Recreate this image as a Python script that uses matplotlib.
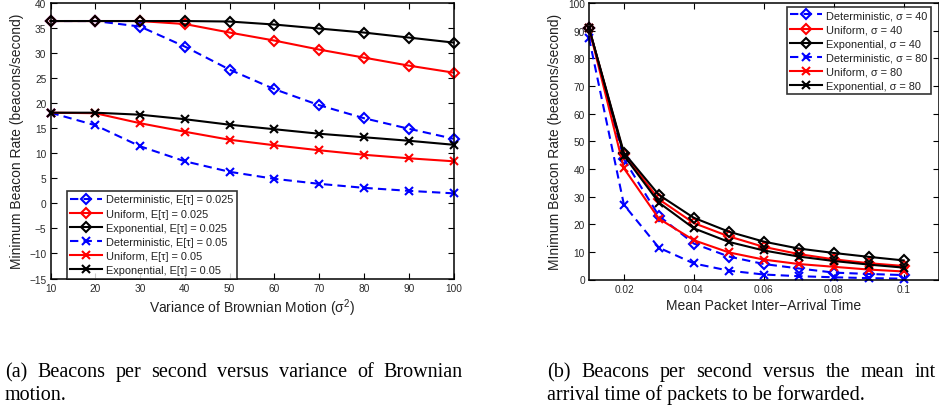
import matplotlib
matplotlib.use('Agg')
import matplotlib.pyplot as plt

plt.rcParams['font.family'] = ['Liberation Sans', 'DejaVu Sans']
plt.rcParams['mathtext.fontset'] = 'custom'
plt.rcParams['mathtext.rm'] = 'Liberation Sans'
plt.rcParams['mathtext.it'] = 'Liberation Sans'

# ---------- data: left panel ----------
var_x = [10, 20, 30, 40, 50, 60, 70, 80, 90, 100]
det_025 = [36.4, 36.4, 35.3, 31.3, 26.7, 22.8, 19.6, 17.0, 14.9, 12.9]
uni_025 = [36.4, 36.4, 36.4, 35.8, 34.1, 32.5, 30.7, 29.1, 27.5, 26.1]
exp_025 = [36.4, 36.4, 36.4, 36.4, 36.3, 35.7, 34.9, 34.1, 33.1, 32.1]
det_05 = [18.1, 15.6, 11.4, 8.4, 6.3, 4.9, 3.9, 3.1, 2.5, 2.0]
uni_05 = [18.1, 18.0, 16.0, 14.3, 12.7, 11.6, 10.6, 9.7, 9.0, 8.4]
exp_05 = [18.1, 18.1, 17.7, 16.8, 15.7, 14.8, 13.9, 13.2, 12.5, 11.7]
left_labels = ['Deterministic, E[τ] = 0.025', 'Uniform, E[τ] = 0.025',
               'Exponential, E[τ] = 0.025', 'Deterministic, E[τ] = 0.05',
               'Uniform, E[τ] = 0.05', 'Exponential, E[τ] = 0.05']
left_xticks = [10, 20, 30, 40, 50, 60, 70, 80, 90, 100]
left_yticks = [-15, -10, -5, 0, 5, 10, 15, 20, 25, 30, 35, 40]

# ---------- data: right panel ----------
arr_x = [0.01, 0.02, 0.03, 0.04, 0.05, 0.06, 0.07, 0.08, 0.09, 0.1]
det_40 = [91.0, 43.5, 23.0, 13.0, 8.3, 5.6, 4.0, 2.5, 2.0, 1.6]
uni_40 = [91.0, 45.3, 29.0, 20.4, 15.6, 11.8, 9.2, 7.3, 5.9, 4.9]
exp_40 = [91.0, 45.8, 30.6, 22.3, 17.3, 13.7, 11.2, 9.6, 8.2, 6.9]
det_80 = [87.4, 27.0, 11.5, 5.8, 3.2, 1.8, 1.2, 0.8, 0.5, 0.3]
uni_80 = [91.0, 40.2, 22.0, 14.2, 9.8, 7.2, 5.6, 4.6, 3.6, 2.9]
exp_80 = [91.0, 44.8, 27.8, 18.5, 13.6, 10.5, 8.3, 6.7, 5.4, 4.3]
right_labels = ['Deterministic, σ = 40', 'Uniform, σ = 40', 'Exponential, σ = 40',
                'Deterministic, σ = 80', 'Uniform, σ = 80', 'Exponential, σ = 80']
right_xticks = [0.02, 0.04, 0.06, 0.08, 0.1]
right_xticklabels = ['0.02', '0.04', '0.06', '0.08', '0.1']
right_yticks = [0, 10, 20, 30, 40, 50, 60, 70, 80, 90, 100]

caption_a = ['(a) Beacons per second versus variance of Brownian', 'motion.']
caption_b = ['(b) Beacons per second versus the mean int',
             'arrival time of packets to be forwarded.']

W, H = 939, 410
fig = plt.figure(figsize=(W / 100, H / 100), dpi=100)

def px_axes(l, t, r, b):
    return fig.add_axes([l / W, 1 - b / H, (r - l) / W, (b - t) / H])

axL = px_axes(50.5, 4, 453.5, 279.5)
axR = px_axes(589, 4, 938.5, 280.5)

styles = [
    dict(color='blue', ls=(0, (4, 2.5)), marker='D', ms=5.5, mfc='none'),
    dict(color='red', ls='-', marker='D', ms=5.5, mfc='none'),
    dict(color='black', ls='-', marker='D', ms=5.5, mfc='none'),
    dict(color='blue', ls=(0, (4, 2.5)), marker='x', ms=5.5),
    dict(color='red', ls='-', marker='x', ms=5.5),
    dict(color='black', ls='-', marker='x', ms=5.5),
]

tick_col = '#2b2b2b'

def style_axes(ax):
    for s in ax.spines.values():
        s.set_linewidth(1.1)
        s.set_color('black')
    ax.tick_params(direction='in', length=4, width=0.8, top=True, right=True,
                   labelsize=7.3, labelcolor=tick_col, pad=3)

for ys, lab, st in zip([det_025, uni_025, exp_025, det_05, uni_05, exp_05], left_labels, styles):
    axL.plot(var_x, ys, lw=1.5, mew=1.5, label=lab, clip_on=False, **st)
axL.set_xlim(10, 100)
axL.set_ylim(-15, 40)
axL.set_xticks(left_xticks)
axL.set_yticks(left_yticks)
style_axes(axL)
axL.set_xlabel('Variance of Brownian Motion (σ$^{2}$)', fontsize=10, color='#222222', labelpad=3)
axL.set_ylabel('Minimum Beacon Rate (beacons/second)', fontsize=10, color='#222222', labelpad=4)
legL = axL.legend(loc='lower left', bbox_to_anchor=((67 - 50.5) / 403, 0.0), fontsize=7.9,
                  frameon=True, fancybox=False, edgecolor='black', handlelength=2.9,
                  handletextpad=0.4, borderpad=0.3, labelspacing=0.38, borderaxespad=0.0)
legL.get_frame().set_linewidth(1.2)
legL.set_zorder(5)
for t in legL.get_texts():
    t.set_color('#222222')

for ys, lab, st in zip([det_40, uni_40, exp_40, det_80, uni_80, exp_80], right_labels, styles):
    axR.plot(arr_x, ys, lw=1.5, mew=1.5, label=lab, clip_on=False, **st)
axR.set_xlim(0.01, 0.11)
axR.set_ylim(0, 100)
axR.set_xticks(right_xticks)
axR.set_xticklabels(right_xticklabels)
axR.set_yticks(right_yticks)
style_axes(axR)
axR.set_xlabel('Mean Packet Inter−Arrival Time', fontsize=10, color='#222222', labelpad=3)
axR.set_ylabel('MInimum Beacon Rate (beacons/second)', fontsize=10, color='#222222', labelpad=4)
legR = axR.legend(loc='upper right', bbox_to_anchor=((931 - 589) / 349.5, 1 - (8 - 4) / 276.5),
                  fontsize=7.9, frameon=True, fancybox=False, edgecolor='black', handlelength=2.9,
                  handletextpad=0.4, borderpad=0.3, labelspacing=0.38, borderaxespad=0.0)
legR.get_frame().set_linewidth(1.2)
legR.set_zorder(5)
for t in legR.get_texts():
    t.set_color('#222222')

# ---------- captions (justified first lines) ----------
fig.canvas.draw()
renderer = fig.canvas.get_renderer()
cap_font = dict(family=['Liberation Serif', 'DejaVu Serif'], fontsize=14.5, color='black')

def justified(line, x0, x1, ybase):
    words = line.split(' ')
    texts = [fig.text(0, 1 - ybase / H, w, va='baseline', ha='left', **cap_font) for w in words]
    widths = [t.get_window_extent(renderer).width for t in texts]
    gap = (x1 - x0 - sum(widths)) / (len(words) - 1)
    x = x0
    for t, w in zip(texts, widths):
        t.set_x(x / W)
        x += w + gap

justified(caption_a[0], 5, 463, 377)
fig.text(5 / W, 1 - 400 / H, caption_a[1], va='baseline', ha='left', **cap_font)
justified(caption_b[0], 547, 936, 377)
fig.text(547 / W, 1 - 400 / H, caption_b[1], va='baseline', ha='left', **cap_font)

fig.savefig('out.png', dpi=100)
